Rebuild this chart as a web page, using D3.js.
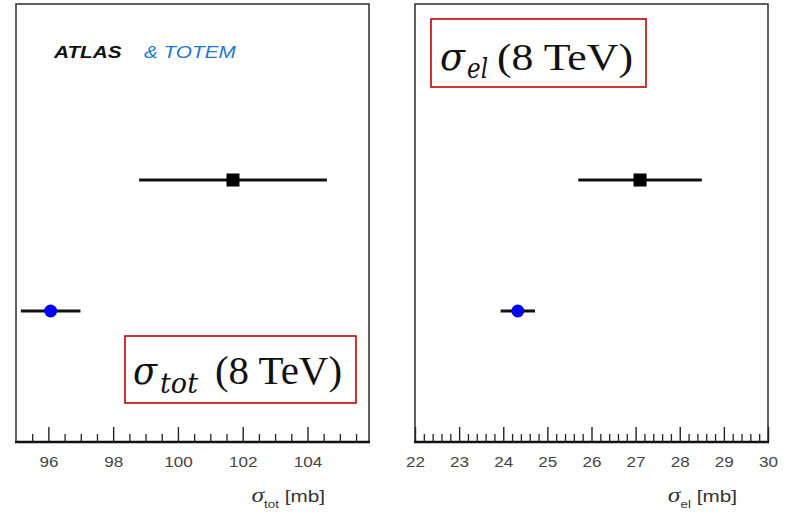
<!DOCTYPE html>
<html><head><meta charset="utf-8">
<script src="https://cdn.jsdelivr.net/npm/d3@7"></script>
<style>body{margin:0;background:#fff}svg{display:block}</style>
</head><body><svg id="c" width="786" height="513"></svg>
<script>
// ---- data ----
const experiments = ["TOTEM", "ATLAS"];
const sigmaTot = [101.7, 96.07];
const sigmaTotErrLo = [2.9, 0.92];
const sigmaTotErrHi = [2.9, 0.92];
const sigmaEl = [27.1, 24.33];
const sigmaElErrLo = [1.4, 0.39];
const sigmaElErrHi = [1.4, 0.39];
const totMajorTicks = [96, 98, 100, 102, 104];
const elMajorTicks = [22, 23, 24, 25, 26, 27, 28, 29, 30];

const svg = d3.select("#c");
const frameTop = 4, frameBottom = 442;
const stretch = 1.22;
const y = d3.scalePoint().domain(experiments).range([180, 311]);
const markerFill = {TOTEM: "#000", ATLAS: "#0000ff"};
const SANS = "Liberation Sans, Arial, sans-serif";

function fitText(g, x, yb, str, w, size, family, style) {
  return g.append("text").attr("x", x).attr("y", yb).text(str)
    .attr("font-family", family).attr("font-size", size).attr("font-style", style || "normal")
    .attr("fill", "#111").attr("textLength", w).attr("lengthAdjust", "spacingAndGlyphs");
}

function panel(opts) {
  const g = svg.append("g");
  const x = d3.scaleLinear().domain(opts.domain).range(opts.range);
  g.append("rect").attr("x", opts.range[0]).attr("y", frameTop)
    .attr("width", opts.range[1] - opts.range[0]).attr("height", frameBottom - frameTop)
    .attr("fill", "#fff").attr("stroke", "#3a3a3a").attr("stroke-width", 1.6);
  g.append("g").attr("transform", `translate(0,${frameBottom})`)
    .call(d3.axisBottom(x).tickValues(opts.minor).tickSize(-8).tickFormat(""))
    .call(a => a.select(".domain").remove())
    .selectAll("line").attr("stroke", "#222").attr("stroke-width", 1.3);
  const ax = g.append("g").attr("transform", `translate(0,${frameBottom})`)
    .call(d3.axisBottom(x).tickValues(opts.major).tickSize(-15).tickPadding(15).tickFormat(d3.format("d")));
  ax.select(".domain").remove();
  ax.selectAll("line").attr("stroke", "#222").attr("stroke-width", 1.4);
  ax.selectAll("text").attr("font-family", SANS).attr("font-size", 14).attr("fill", "#444")
    .attr("transform", `scale(${stretch},1)`);
  g.append("line").attr("x1", opts.range[0] - 1).attr("x2", opts.range[1] + 1)
    .attr("y1", frameBottom).attr("y2", frameBottom).attr("stroke", "#111").attr("stroke-width", 2.6);
  experiments.forEach((e, i) => {
    const v = opts.values[i];
    g.append("line").attr("x1", x(v - opts.lo[i])).attr("x2", x(v + opts.hi[i]))
      .attr("y1", y(e)).attr("y2", y(e)).attr("stroke", "#111").attr("stroke-width", 3);
    if (e === "TOTEM") {
      g.append("rect").attr("x", x(v) - 6.5).attr("y", y(e) - 6.5)
        .attr("width", 13).attr("height", 13).attr("fill", markerFill[e]);
    } else {
      g.append("circle").attr("cx", x(v)).attr("cy", y(e)).attr("r", 6.5).attr("fill", markerFill[e]);
    }
  });
  // axis title
  const t = g.append("text").attr("transform", `translate(${opts.titleX},502) scale(${stretch},1)`)
    .attr("text-anchor", "end").attr("font-family", SANS).attr("font-size", 17).attr("fill", "#333");
  t.append("tspan").attr("font-family", "Liberation Serif, serif").attr("font-style", "italic").attr("font-size", 21).text("σ");
  t.append("tspan").attr("font-size", 11).attr("dy", 6).text(opts.sub);
  t.append("tspan").attr("dy", -6).text(" [mb]");
  // red box label
  const b = opts.box;
  g.append("rect").attr("x", b.x).attr("y", b.y).attr("width", b.w).attr("height", b.h)
    .attr("fill", "#fff").attr("stroke", "#c00000").attr("stroke-width", 1.6);
  fitText(g, b.sx, b.base, "σ", b.sw, 40, "DejaVu Serif, serif", "italic");
  fitText(g, b.subx, b.base + b.subdy, opts.sub, b.subw, 28, "DejaVu Serif, serif", "italic");
  fitText(g, b.rx, b.base, "(8 TeV)", b.rw, b.rsize, "Liberation Serif, Times New Roman, serif");
}

panel({domain: [95, 105.9], range: [16, 369], major: totMajorTicks,
  minor: d3.range(95.5, 105.9, 0.5).filter(v => !totMajorTicks.includes(v)),
  values: sigmaTot, lo: sigmaTotErrLo, hi: sigmaTotErrHi, sub: "tot", titleX: 325,
  box: {x: 125, y: 336, w: 231, h: 67, base: 384, sx: 133, sw: 24, subx: 160, subw: 38, subdy: 9,
        rx: 215, rw: 127, rsize: 40}});
panel({domain: [22, 30], range: [415, 768], major: elMajorTicks,
  minor: d3.range(22.2, 30, 0.2).filter(v => Math.abs(v - Math.round(v)) > 0.01),
  values: sigmaEl, lo: sigmaElErrLo, hi: sigmaElErrHi, sub: "el", titleX: 737,
  box: {x: 431, y: 19, w: 215, h: 68, base: 70, sx: 440, sw: 25, subx: 467, subw: 21, subdy: 8,
        rx: 497, rw: 136, rsize: 38}});

// experiment label
svg.append("text").attr("transform", `translate(54,58) scale(${stretch},1)`)
  .attr("font-family", SANS).attr("font-size", 17).attr("font-style", "italic").attr("font-weight", "bold")
  .attr("fill", "#111").text("ATLAS");
svg.append("text").attr("transform", `translate(144,58) scale(${stretch},1)`)
  .attr("font-family", SANS).attr("font-size", 17).attr("font-style", "italic")
  .attr("fill", "#1f78d1").text("& TOTEM");
</script></body></html>
